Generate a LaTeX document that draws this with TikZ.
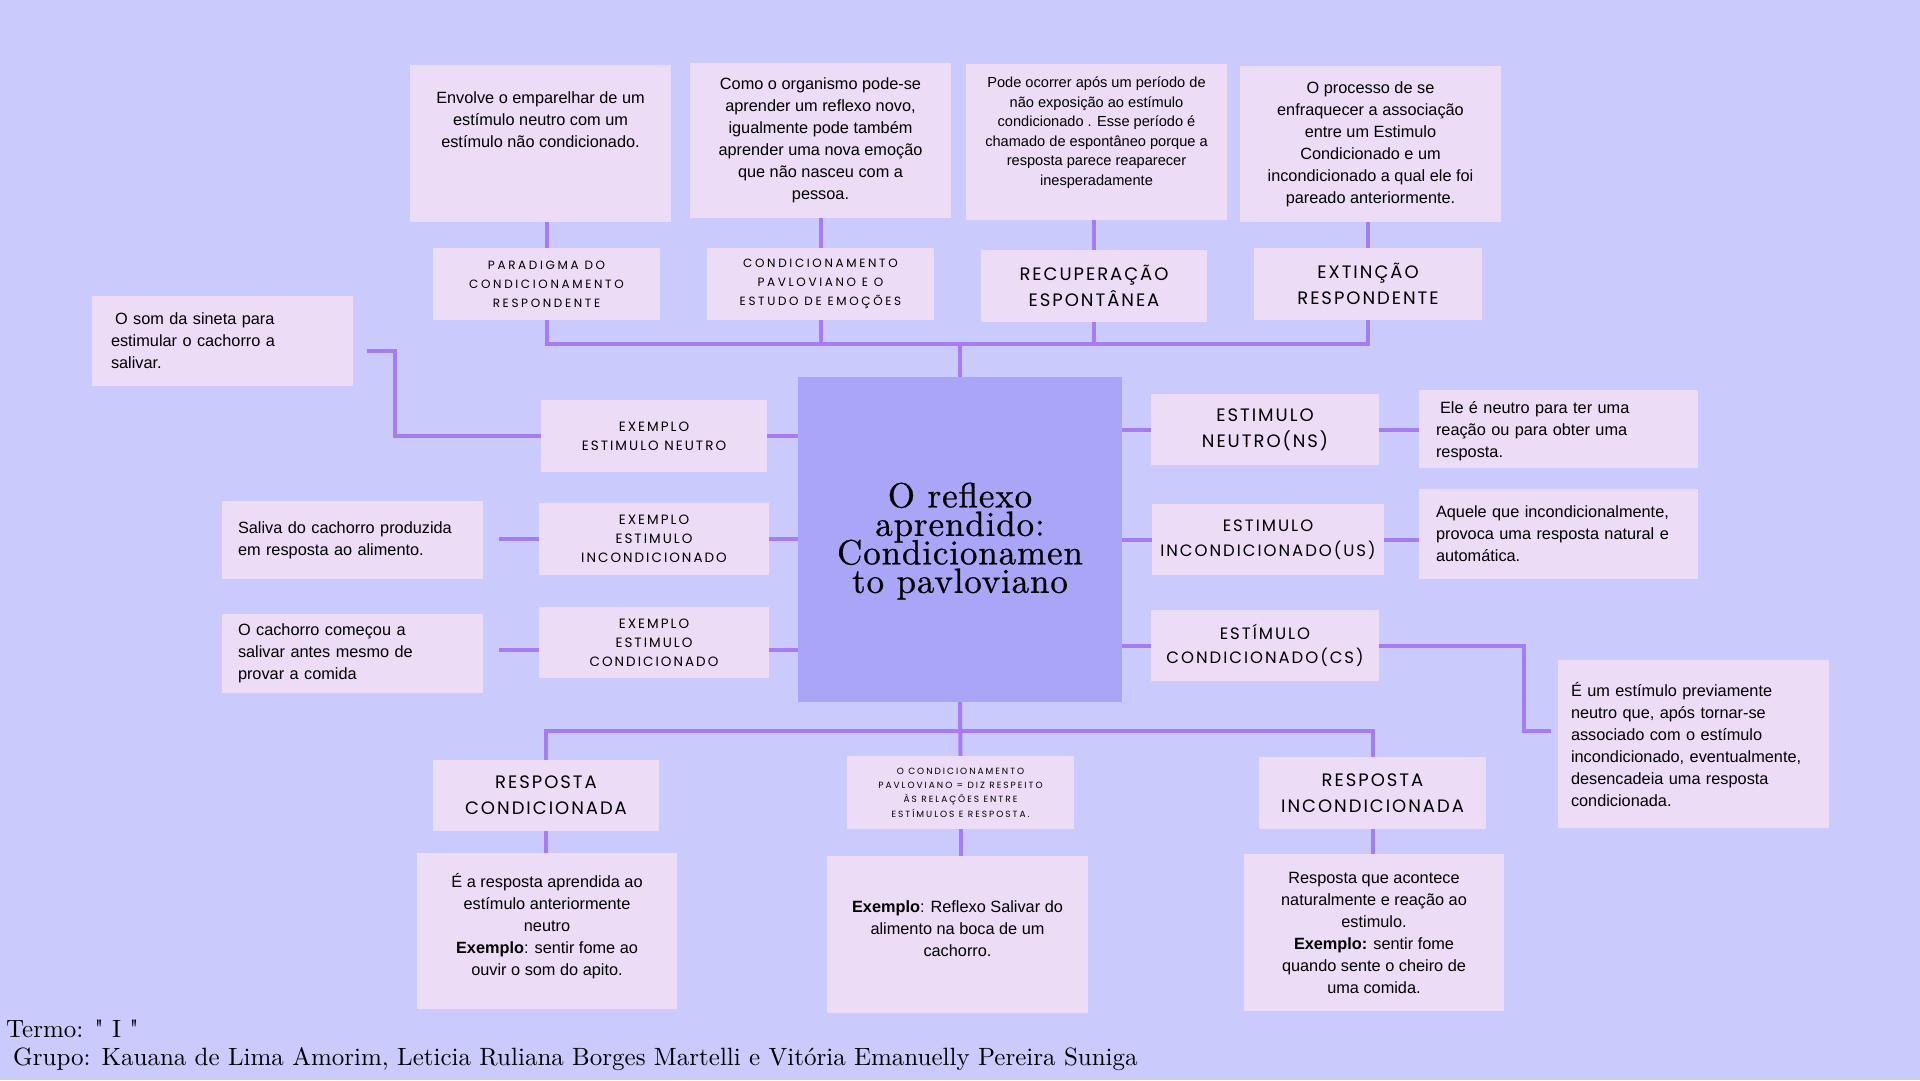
\documentclass[tikz,border=0pt]{standalone}
\usepackage{fontspec}
\newfontfamily\bodyfont{Liberation Sans}
\newfontfamily\capsfont{Poppins}
\newfontfamily\titlefont[LetterSpace=2.5, FakeBold=0.7]{lmroman10-regular.otf}
\newfontfamily\footfont[Ligatures=TeXOff]{lmroman10-regular.otf}
\definecolor{bgpage}{HTML}{CBCAFD}
\definecolor{cardfill}{HTML}{ECDCF6}
\definecolor{hubfill}{HTML}{A9A6F8}
\definecolor{linkline}{HTML}{A67CF4}

\begin{document}
\begin{tikzpicture}[x=1pt, y=-1pt,
  wh/.style 2 args={minimum width=#1pt, minimum height=#2pt},
  card/.style={fill=cardfill, inner sep=0pt, align=center,
    font=\bodyfont\fontsize{16.3}{22}\selectfont},
  cardL/.style={card, align=left},
  tag/.style={fill=cardfill, inner sep=0pt, align=center},
  tagS/.style={tag, font=\capsfont\fontsize{12}{19}\selectfont\addfontfeatures{LetterSpace=22}},
  tagE/.style={tag, font=\capsfont\fontsize{13.5}{19}\selectfont\addfontfeatures{LetterSpace=15}},
  tagM/.style={tag, font=\capsfont\fontsize{16.5}{24.5}\selectfont\addfontfeatures{LetterSpace=12}},
  tagL/.style={tag, font=\capsfont\fontsize{18}{26}\selectfont\addfontfeatures{LetterSpace=11}},
  tagT/.style={tag, font=\capsfont\fontsize{9}{14.3}\selectfont\addfontfeatures{LetterSpace=22}},
  hub/.style={fill=hubfill, inner sep=0pt, align=center, wh={324}{325},
    font={\titlefont\fontsize{35}{28.5}\selectfont\lineskiplimit=-30pt}},
  foot/.style={anchor=west, inner sep=0pt,
    font=\footfont\fontsize{25}{28}\selectfont},
  link/.style={draw=linkline, line width=4pt}]
  \fill[bgpage] (0,0) rectangle (1920,1080);
  \useasboundingbox (0,0) rectangle (1920,1080);

  % centre
  \node[hub] (ctr) at (960,539.5) {O reflexo\\aprendido:\\Condicionamen\\to pavloviano\\[-25pt]\mbox{}};

  % top row: descriptions
  \node[card, wh={261}{157}] (dpar) at (540.5,143.5)
    {\parbox[c][103pt][t]{255pt}{\centering Envolve o emparelhar de um\\estímulo neutro com um\\estímulo não condicionado.}};
  \node[card, wh={261}{155}] (dpav) at (820.5,140.5)
    {Como o organismo pode-se\\aprender um reflexo novo,\\igualmente pode também\\aprender uma nova emoção\\que não nasceu com a\\pessoa.};
  \node[card, wh={261}{156}, font=\bodyfont\fontsize{14.6}{19.6}\selectfont] (drec) at (1096.5,142)
    {Pode ocorrer após um período de\\não exposição ao estímulo\\condicionado . Esse período é\\chamado de espontâneo porque a\\resposta parece reaparecer\\inesperadamente\\[2pt]};
  \node[card, wh={261}{156}] (dext) at (1370.5,144)
    {O processo de se\\enfraquecer a associação\\entre um Estimulo\\Condicionado e um\\incondicionado a qual ele foi\\pareado anteriormente.};

  % top row: tags
  \node[tagS, wh={227}{72}] (lpar) at (546.5,284) {PARADIGMA DO\\CONDICIONAMENTO\\RESPONDENTE};
  \node[tagS, wh={227}{72}] (lpav) at (820.5,284) {CONDICIONAMENTO\\PAVLOVIANO E O\\ESTUDO DE EMOÇÕES};
  \node[tagL, wh={226}{72}] (lrec) at (1094,286) {RECUPERAÇÃO\\ESPONTÂNEA};
  \node[tagL, wh={228}{72}] (lext) at (1368,284) {EXTINÇÃO\\RESPONDENTE};

  % left side
  \node[tagE, wh={226}{72}] (en) at (654,436) {EXEMPLO\\ESTIMULO NEUTRO};
  \node[tagE, wh={230}{72}] (ei) at (654,539) {EXEMPLO\\ESTIMULO\\INCONDICIONADO};
  \node[tagE, wh={230}{71}] (ec) at (654,642.5) {EXEMPLO\\ESTIMULO\\CONDICIONADO};
  \node[cardL, wh={261}{90}, text width=223pt] (sineta) at (222.5,341)
    {\hspace{4pt}O som da sineta para\\estimular o cachorro a\\salivar.};
  \node[cardL, wh={261}{78}, text width=229pt] (saliva) at (352.5,540)
    {Saliva do cachorro produzida\\em resposta ao alimento.};
  \node[cardL, wh={261}{79}, text width=229pt] (cach) at (352.5,653.5)
    {O cachorro começou a\\salivar antes mesmo de\\provar a comida};

  % right side
  \node[tagL, wh={228}{71}] (ns) at (1265,429.5) {ESTIMULO\\NEUTRO(NS)};
  \node[tagM, wh={232}{71}] (us) at (1268,539.5) {ESTIMULO\\INCONDICIONADO(US)};
  \node[tagM, wh={228}{71}] (cs) at (1265,645.5) {ESTÍMULO\\CONDICIONADO(CS)};
  \node[cardL, wh={279}{78}, text width=245pt] (nsd) at (1558.5,429)
    {\rule{0pt}{17pt}\hspace{4pt}Ele é neutro para ter uma\\reação ou para obter uma\\resposta.};
  \node[cardL, wh={279}{90}, text width=245pt] (usd) at (1558.5,534)
    {Aquele que incondicionalmente,\\provoca uma resposta natural e\\automática.};
  \node[cardL, wh={271}{168}, text width=245pt] (csd) at (1693.5,744)
    {É um estímulo previamente\\neutro que, após tornar-se\\associado com o estímulo\\incondicionado, eventualmente,\\desencadeia uma resposta\\condicionada.};

  % bottom row
  \node[tagL, wh={226}{71}] (rc) at (546,795.5) {RESPOSTA\\CONDICIONADA};
  \node[tagT, wh={227}{73}] (mid) at (960.5,792.5)
    {O CONDICIONAMENTO\\PAVLOVIANO = DIZ RESPEITO\\ÀS RELAÇÕES ENTRE\\ESTÍMULOS E RESPOSTA.};
  \node[tagL, wh={227}{72}] (ri) at (1372.5,793) {RESPOSTA\\INCONDICIONADA};
  \node[card, wh={260}{156}] (rcd) at (547,931)
    {É a resposta aprendida ao\\estímulo anteriormente\\neutro\\\textbf{Exemplo}: sentir fome ao\\ouvir o som do apito.\\[-8pt]\mbox{}};
  \node[card, wh={261}{157}] (mdd) at (957.5,934.5)
    {\textbf{Exemplo}: Reflexo Salivar do\\alimento na boca de um\\cachorro.\\[-10pt]\mbox{}};
  \node[card, wh={260}{157}] (rid) at (1374,932.5)
    {Resposta que acontece\\naturalmente e reação ao\\estimulo.\\\textbf{Exemplo:} sentir fome\\quando sente o cheiro de\\uma comida.};

  % footer
  \node[foot] (termo) at (6,1029) {Termo: " I "};
  \node[foot] (grupo) at (13,1059) {Grupo: Kauana de Lima Amorim, Leticia Ruliana Borges Martelli e Vitória Emanuelly Pereira Suniga};

  % top connectors
  \coordinate (topbus) at (960,344);
  \draw[link] (lpar.north) -- (lpar.north |- dpar.south);
  \draw[link] (lpav.north) -- (lpav.north |- dpav.south);
  \draw[link] (lrec.north) -- (lrec.north |- drec.south);
  \draw[link] (lext.north) -- (lext.north |- dext.south);
  \draw[link] (lpar.south) |- (topbus) -| (lext.south);
  \draw[link] (lpav.south) -- (lpav.south |- topbus);
  \draw[link] (lrec.south) -- (lrec.south |- topbus);
  \draw[link] (topbus) -- (ctr.north);

  % left connectors
  \coordinate (sinknee) at (395,351);
  \draw[link] (en.east) -- (en.east -| ctr.west);
  \draw[link, shorten >=14pt] (en.west) -| (sinknee) -- (sinknee -| sineta.east);
  \draw[link] (ei.east) -- (ei.east -| ctr.west);
  \draw[link, shorten <=16pt] (saliva.east |- ei.west) -- (ei.west);
  \coordinate (ecjoin) at ([yshift=-7pt]ec.east);
  \draw[link] (ecjoin) -- (ecjoin -| ctr.west);
  \draw[link, shorten <=16pt] (cach.east |- ecjoin) -- (ecjoin -| ec.west);

  % right connectors
  \coordinate (csknee) at (1524,731);
  \draw[link] (ns.west) -- (ns.west -| ctr.east);
  \draw[link] (ns.east) -- (ns.east -| nsd.west);
  \draw[link] (us.west) -- (us.west -| ctr.east);
  \draw[link] (us.east) -- (us.east -| usd.west);
  \draw[link] (cs.west) -- (cs.west -| ctr.east);
  \draw[link, shorten >=7pt] (cs.east) -| (csknee) -- (csknee -| csd.west);

  % bottom connectors
  \coordinate (botbus) at (960,731);
  \draw[link] (ctr.south) -- (mid.north);
  \draw[link] (rc.north) |- (botbus) -| (ri.north);
  \draw[link] (rc.south) -- (rc.south |- rcd.north);
  \draw[link] (mid.south) -- (mid.south |- mdd.north);
  \draw[link] (ri.south) -- (ri.south |- rid.north);
\end{tikzpicture}
\end{document}
